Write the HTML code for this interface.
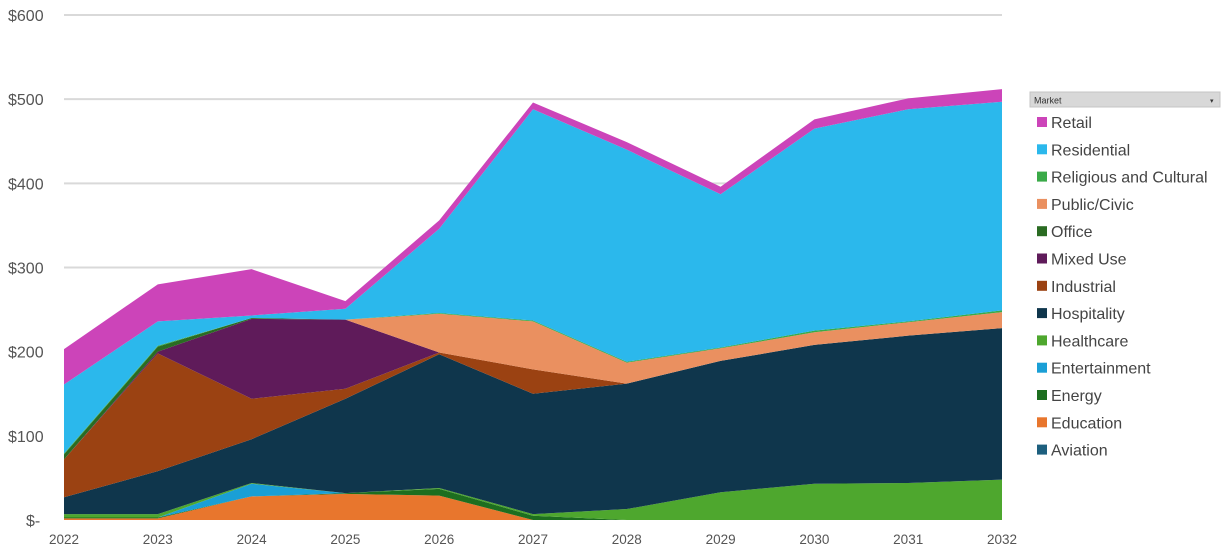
<!DOCTYPE html>
<html><head><meta charset="utf-8"><style>
body{margin:0;background:#fff;width:1224px;height:548px;overflow:hidden;font-family:"Liberation Sans","DejaVu Sans",sans-serif;}
svg text{fill:#555;font-family:"Liberation Sans","DejaVu Sans",sans-serif;}
</style></head><body>
<svg id="chart" width="1224" height="548" xmlns="http://www.w3.org/2000/svg">
<g id="grid"></g>
<g id="areas"></g>
<g id="yaxis"></g>
<g id="xaxis"></g>
<g id="legend">
<rect x="1030" y="92" width="190" height="15" fill="#d8d8d8" stroke="#c4c4c4"/>
<text x="1034" y="103.5" font-size="9" style="fill:#333">Market</text>
<text x="1210" y="103" font-size="7" style="fill:#333">▾</text>
</g>
</svg>
<script>
const years=["2022","2023","2024","2025","2026","2027","2028","2029","2030","2031","2032"];
const seriesNames=["Aviation","Education","Energy","Entertainment","Healthcare","Hospitality","Industrial","Mixed Use","Office","Public/Civic","Religious and Cultural","Residential","Retail"];
const aviation=[0,0,0,0,0,0,0,0,0,0,0];
const education=[2,2,28,31,29,0,0,0,0,0,0];
const energy=[1,1,0,1,8,5,0,0,0,0,0];
const entertainment=[0,0,15,0,0,0,0,0,0,0,0];
const healthcare=[4,4,1,0,1,2,13,33,43,44,48];
const hospitality=[20,51,52,112,159,143,149,156,165,175,180];
const industrial=[45,140,48,12,2,29,0,0,0,0,0];
const mixedUse=[0,2,95,82,0,0,0,0,0,0,0];
const office=[6,6,1,0,0,0,0,0,0,0,0];
const publicCivic=[0,0,0,0,46,57,25,15,15,16,19];
const religious=[1,1,0,0,1,1,1,1,2,1,2];
const residential=[82,29,3,13,100,251,252,182,240,252,248];
const retail=[42,44,55,9,10,8,9,9,11,13,15];
const yTicks=[0,100,200,300,400,500,600];
const yTickLabels=["$-","$100","$200","$300","$400","$500","$600"];
const colors=["#1d5f7e","#e8762d","#1d6e1f","#1a9fd6","#4ea72e","#0f364c","#9b4212","#5f1b5a","#2a6b22","#ea9060","#3aaa48","#2bb8ec","#cc44b9"];
const series=[aviation,education,energy,entertainment,healthcare,hospitality,industrial,mixedUse,office,publicCivic,religious,residential,retail];
const NS="http://www.w3.org/2000/svg";
const x0=64,x1=1002,yBot=520,yTop=15,yMax=600;
const xScale=i=>x0+(x1-x0)*i/(years.length-1);
const yScale=v=>yBot-(yBot-yTop)*v/yMax;
function mk(tag,attrs,parent){const e=document.createElementNS(NS,tag);for(const k in attrs)e.setAttribute(k,attrs[k]);parent.appendChild(e);return e;}
const grid=document.getElementById('grid'),yax=document.getElementById('yaxis'),xax=document.getElementById('xaxis'),areas=document.getElementById('areas'),legend=document.getElementById('legend');
yTicks.forEach((t,i)=>{
  if(t>0){const l=mk('line',{x1:x0,x2:x1,y1:yScale(t),y2:yScale(t),stroke:'#d9d9d9','stroke-width':2},grid);
  
  }
  const tx=mk('text',{x:t===0?26:8,y:yScale(t)+6,'font-size':16},yax);
  
  
  tx.textContent=yTickLabels[i];
});
years.forEach((y,i)=>{
  const tx=mk('text',{x:xScale(i),y:544,'font-size':13.5,'text-anchor':'middle'},xax);
  
  
  tx.textContent=y;
});
let cum=years.map(()=>0);
series.forEach((s,si)=>{
  const lower=cum.slice();
  const upper=cum.map((c,i)=>c+s[i]);
  let d='';
  upper.forEach((v,i)=>{d+=(i?'L':'M')+xScale(i)+','+yScale(v);});
  for(let i=lower.length-1;i>=0;i--)d+='L'+xScale(i)+','+yScale(lower[i]);
  d+='Z';
  const p=mk('path',{d:d,fill:colors[si]},areas);
  
  
  cum=upper;
});
for(let k=seriesNames.length-1;k>=0;k--){
  const idx=seriesNames.length-1-k;
  const yy=122+idx*27.3;
  const g=mk('g',{},legend);
  
  
  mk('rect',{x:1037,y:yy-5,width:10,height:10,fill:colors[k]},g);
  const t=mk('text',{x:1051,y:yy+6,'font-size':16},g);
  t.setAttribute('style','fill:#444');
  t.textContent=seriesNames[k];
}
</script>
</body></html>
